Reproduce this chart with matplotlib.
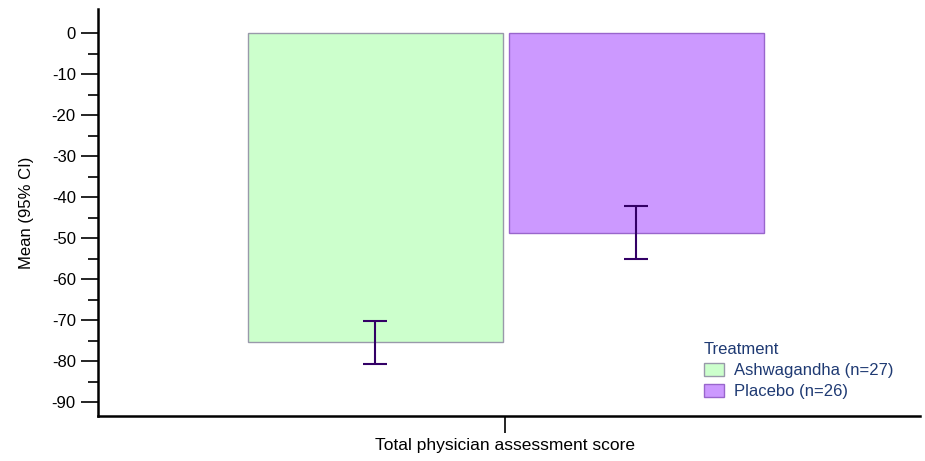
import numpy as np
import matplotlib.pyplot as plt
from matplotlib.ticker import FixedLocator

plt.rcParams['font.family'] = ['Liberation Sans', 'DejaVu Sans']
plt.rcParams['axes.unicode_minus'] = False

# data
groups = ['Ashwagandha (n=27)', 'Placebo (n=26)']
means = [-75.4, -48.8]
ci_low = [-80.7, -55.1]
ci_high = [-70.2, -42.2]
category = 'Total physician assessment score'

offsets = [-0.325, 0.31]
width = 0.62
fills = ['#CCFFCC', '#CC99FF']
edges = ['#9999AA', '#9966CC']
err_col = '#330066'

fig = plt.figure(figsize=(9.25, 4.61), dpi=100)
ax = fig.add_axes([0.106, 0.0976, 0.8886, 0.8824])

for i in range(len(groups)):
    ax.bar(offsets[i], means[i], width=width, color=fills[i], edgecolor=edges[i],
           linewidth=1.0, label=groups[i], zorder=2)
    yerr = [[means[i] - ci_low[i]], [ci_high[i] - means[i]]]
    ax.errorbar(offsets[i], means[i], yerr=yerr, fmt='none', ecolor=err_col,
                elinewidth=1.5, capsize=8.5, capthick=1.5, zorder=3)

ax.set_xlim(-1.0, 1.0)
ax.set_xticks([-0.01])
ax.set_xticklabels([category], fontsize=12.5)
ax.set_yticks(np.arange(-90, 1, 10))
ax.yaxis.set_minor_locator(FixedLocator(np.arange(-85, 0, 10)))
ax.set_ylim(-93.4, 5.9)
ax.tick_params(axis='y', which='major', length=12, width=1.2, labelsize=12, pad=4)
ax.tick_params(axis='y', which='minor', length=7, width=1.2)
ax.tick_params(axis='x', which='major', length=12, width=1.2, labelsize=12.5, pad=4)
ax.set_ylabel('Mean (95% CI)', fontsize=12, labelpad=13)

for s in ['top', 'right']:
    ax.spines[s].set_visible(False)
for s in ['left', 'bottom']:
    ax.spines[s].set_linewidth(1.8)

leg = ax.legend(title='Treatment', loc='upper left', bbox_to_anchor=(0.748, 0.283),
                bbox_transform=fig.transFigure, frameon=False, fontsize=12,
                title_fontsize=12, handlelength=1.2, handleheight=0.8,
                handletextpad=0.65, labelspacing=0.35, borderpad=0.2)
leg._legend_box.align = 'left'
for t in leg.get_texts():
    t.set_color('#1F3A73')
leg.get_title().set_color('#1F3A73')

fig.savefig('out.png', dpi=100)
